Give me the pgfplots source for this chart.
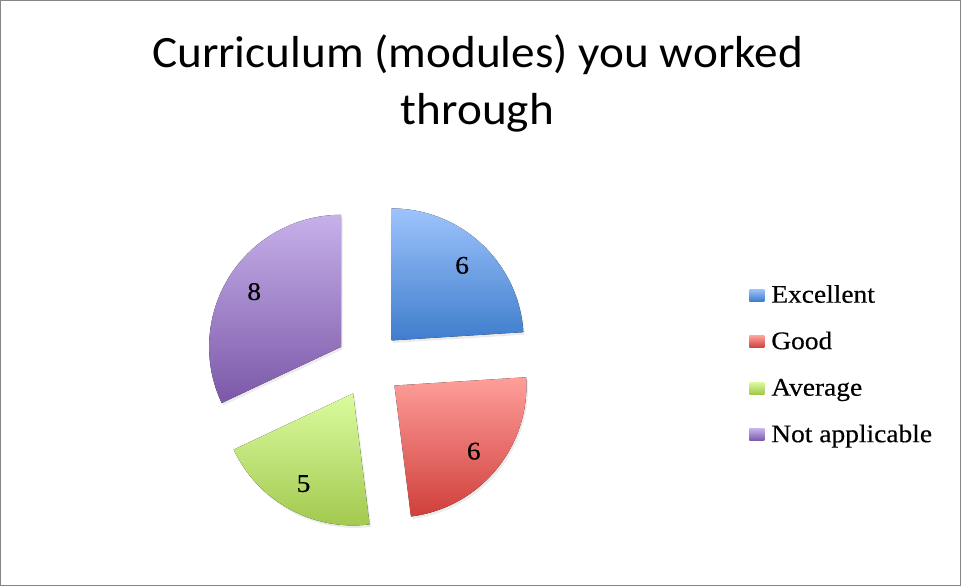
\documentclass[border=0pt]{standalone}
\usepackage{pgfplots}
\usepackage{pgfplotstable}
\pgfplotsset{compat=1.18}
\usepackage{fontspec}
\setmainfont[FakeStretch=1.08, FakeBold=0.4]{Liberation Serif}
\newfontfamily\titlefont[FakeStretch=1.053]{Carlito}
\newcommand\lblfont{\fontsize{25.5}{30}\selectfont}

\definecolor{excTop}{RGB}{157,195,252}
\definecolor{excBot}{RGB}{63,125,204}
\definecolor{goodTop}{RGB}{255,158,154}
\definecolor{goodBot}{RGB}{207,63,59}
\definecolor{avgTop}{RGB}{219,251,158}
\definecolor{avgBot}{RGB}{160,199,76}
\definecolor{naTop}{RGB}{198,176,234}
\definecolor{naBot}{RGB}{123,88,168}
\definecolor{frame}{RGB}{134,134,134}

% answers per category, with the two ends of each slice's gradient
\pgfplotstableread{
label value ctop cbot
Excellent 6 excTop excBot
Good 6 goodTop goodBot
Average 5 avgTop avgBot
{Not applicable} 8 naTop naBot
}\piedata

\begin{document}
\begin{tikzpicture}
\begin{axis}[
  scale only axis, width=961bp, height=586bp,
  xmin=0, xmax=961, ymin=0, ymax=586,
  hide axis, clip=false,
  legend cell align=left,
  legend style={draw=none, fill=none, inner sep=0pt, outer sep=0pt,
    at={(axis cs:749.3,303.3)}, anchor=north west,
    font=\lblfont, row sep=21.5bp, column sep=7bp,
    nodes={text height=20bp, text depth=5bp, inner sep=0pt}},
  legend image code/.code={\path[#1, draw=none] (0bp,-6bp) rectangle (15bp,6bp);},
]
% frame round the chart
\draw[frame, line width=1bp] (axis cs:0.5,0.5) rectangle (axis cs:960.5,585.5);

% title
\node[font=\titlefont\fontsize{45}{54}\selectfont, anchor=base] at (axis cs:477.5,518.3) {Curriculum (modules) you worked};
\node[font=\titlefont\fontsize{45}{54}\selectfont, anchor=base] at (axis cs:477.5,461) {through};

% total of the values
\xdef\total{0}
\pgfplotstableforeachcolumnelement{value}\of\piedata\as\val{%
  \pgfmathsetmacro\tmp{\total+\val}\xdef\total{\tmp}}

% exploded slices, clockwise from 12 o'clock
\xdef\cum{0}
\pgfplotstablegetrowsof{\piedata}
\pgfmathtruncatemacro\last{\pgfplotsretval-1}
\foreach \i in {0,...,\last}{
  \pgfplotstablegetelem{\i}{value}\of\piedata \let\v\pgfplotsretval
  \pgfplotstablegetelem{\i}{ctop}\of\piedata \let\ct\pgfplotsretval
  \pgfplotstablegetelem{\i}{cbot}\of\piedata \let\cb\pgfplotsretval
  \pgfmathsetmacro\sa{90-360*\cum/\total}
  \pgfmathsetmacro\ea{\sa-360*\v/\total}
  \pgfmathsetmacro\ma{(\sa+\ea)/2}
  \pgfmathsetmacro\cx{369+33*cos(\ma)}
  \pgfmathsetmacro\cy{221.5+33*sin(\ma)}
  \pgfmathsetmacro\lx{369+136*cos(\ma)}
  \pgfmathsetmacro\ly{221.5+136*sin(\ma)}
  \edef\slice{%
    \noexpand\fill[black, opacity=0.08] (axis cs:\cx,\cy) ++(1.5bp,-2.5bp) -- ++(\sa:132bp) arc[start angle=\sa, end angle=\ea, radius=132bp] -- cycle;
    \noexpand\fill[top color=\ct, bottom color=\cb] (axis cs:\cx,\cy) -- ++(\sa:132bp) arc[start angle=\sa, end angle=\ea, radius=132bp] -- cycle;
    \noexpand\node[font=\noexpand\lblfont] at (axis cs:\lx,\ly) {\v};
  }
  \slice
  \pgfmathsetmacro\tmp{\cum+\v}\xdef\cum{\tmp}
}

\addlegendimage{top color=excTop, bottom color=excBot}
\addlegendentry{Excellent}
\addlegendimage{top color=goodTop, bottom color=goodBot}
\addlegendentry{Good}
\addlegendimage{top color=avgTop, bottom color=avgBot}
\addlegendentry{Average}
\addlegendimage{top color=naTop, bottom color=naBot}
\addlegendentry{Not applicable}
\end{axis}
\end{tikzpicture}
\end{document}
